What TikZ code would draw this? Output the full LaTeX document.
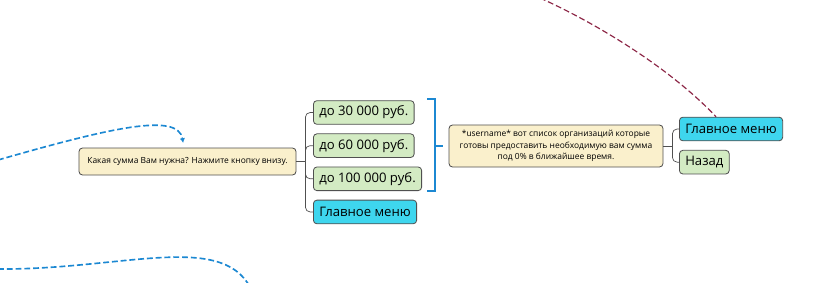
\documentclass[tikz,border=0pt]{standalone}
\usepackage{fontspec}
\setmainfont{Open Sans}
\usetikzlibrary{arrows.meta,positioning}
\definecolor{noteFill}{HTML}{FAF0CC}
\definecolor{choiceFill}{HTML}{D3EBC3}
\definecolor{menuFill}{HTML}{3ED6EE}
\definecolor{boxLine}{HTML}{505050}
\definecolor{linkBlue}{HTML}{1C88D2}
\definecolor{linkRed}{HTML}{8C2646}
\tikzset{
  base/.style={
    draw=boxLine,
    line width=0.7pt,
    rounded corners=3pt,
    inner xsep=5pt,
    align=center,
  },
  note/.style={
    base,
    fill=noteFill,
    font=\fontsize{7.2}{10}\selectfont,
  },
  choice/.style={
    base,
    fill=choiceFill,
    minimum height=0.71cm,
    font=\fontsize{11.2}{12}\selectfont,
  },
  menu/.style={
    choice,
    fill=menuFill,
  },
  branch/.style={
    draw=boxLine,
    line width=0.6pt,
    rounded corners=4pt,
  },
  jump/.style={
    line width=1.4pt,
    dash pattern=on 5pt off 2.5pt,
  },
}

\begin{document}
\begin{tikzpicture}[x=0.03cm,y=-0.03cm]
    \useasboundingbox (0,0) rectangle (840,283);

    \node [note, minimum width=6.51cm, minimum height=0.81cm] (ask) at (187.5,161.5)
      {Какая сумма Вам нужна? Нажмите кнопку внизу.};

    % Choices
    \node [choice, anchor=west] (sum30) at (313,112.5) {до 30 000 руб.};
    \node [choice, below right=0.26cm and 0cm of sum30.south west] (sum60)
      {до 60 000 руб.};
    \node [choice, below right=0.26cm and 0cm of sum60.south west] (sum100)
      {до 100 000 руб.};
    \node [menu, below right=0.26cm and 0cm of sum100.south west] (home)
      {Главное меню};

    \node [note, minimum width=6.42cm, minimum height=1.26cm] (offer) at (556,146)
      {*username* вот список организаций которые\\
       готовы предоставить необходимую вам сумма\\
       под 0\% в ближайшее время.};

    \node [menu, anchor=west] (home2) at (679,129) {Главное меню};
    \node [choice, below right=0.26cm and 0cm of home2.south west] (back) {Назад};

    % Left tree
    \coordinate (askfork) at ([xshift=0.27cm]ask.east);
    \draw[branch] (ask.east) -- (askfork);
    \foreach \opt in {sum30,sum60,sum100,home}
      \draw[branch] (askfork) |- (\opt.west);

    % Right tree
    \coordinate (offerfork) at ([xshift=0.27cm]offer.east);
    \draw[branch] (offer.east) -- (offerfork);
    \foreach \opt in {home2,back}
      \draw[branch] (offerfork) |- (\opt.west);

    % Bracket
    \coordinate (bracetop) at ([xshift=0.15cm,yshift=0.03cm]sum100.east |- sum30.north);
    \coordinate (bracebot) at ([xshift=0.15cm]sum100.south east);
    \draw[linkBlue, line width=1.4pt]
      (bracetop) -- ++(8,0) |- (bracebot);
    \coordinate (bracemid) at ([xshift=0.24cm]bracetop |- offer.west);
    \draw[linkBlue, line width=1.4pt] (bracemid) -- ([xshift=-0.18cm]offer.west);

    % Jumps
    \coordinate (leftin) at (-2,160);
    \draw[jump, linkBlue, -{Latex[length=4pt,width=4.5pt]}]
      (leftin) .. controls (110,128) and (178,112) .. ([xshift=-0.13cm,yshift=0.14cm]ask.north);
    \coordinate (lowin) at (-2,269);
    \coordinate (lowout) at (250,287);
    \draw[jump, linkBlue] (lowin) .. controls (120,270) and (220,232) .. (lowout);
    \coordinate (topin) at (540,-2);
    \draw[linkRed, line width=1pt, dash pattern=on 5pt off 2.5pt]
      (topin) .. controls (600,25) and (672,70) .. ([xshift=-0.45cm]home2.north);
\end{tikzpicture}
\end{document}
